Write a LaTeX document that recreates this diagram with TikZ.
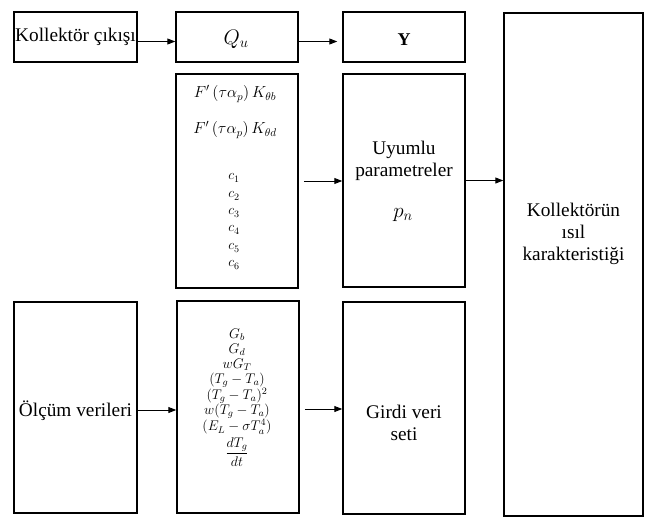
\RequirePackage{fix-cm}
\documentclass[tikz,border=0pt]{standalone}
\usepackage{amsmath}
\usepackage{fontspec}
\setmainfont{Liberation Serif}
\usetikzlibrary{arrows.meta}
\begin{document}
\begin{tikzpicture}[x=1pt,y=-1pt,
  box/.style={draw,line width=1.5pt,inner sep=0pt,align=center},
  lbl/.style={inner sep=0pt,align=center},
  txt/.style={font=\fontsize{19.3}{22}\selectfont},
  fml/.style={font=\fontsize{16}{18}\selectfont},
  mth/.style={font=\fontsize{14}{16}\selectfont},
  sml/.style={font=\fontsize{14}{15}\selectfont},
  big/.style={font=\fontsize{21}{24}\selectfont},
  arr/.style={-{Triangle[length=8pt,width=6pt]},line width=1pt}]
\useasboundingbox (0,0) rectangle (648,519);

% boxes
\node[box,txt,minimum width=123pt,minimum height=50pt] (kc) at (75.5,37) {Kollektör çıkışı};
\node[box,minimum width=122pt,minimum height=50pt] (qu) at (237,37) {};
\node[box,minimum width=122pt,minimum height=50pt] (yb) at (404,37) {};
\node[box,minimum width=139pt,minimum height=503pt] (kt) at (573.5,264.5) {};
\node[box,minimum width=122pt,minimum height=214pt] (par) at (237,181) {};
\node[box,minimum width=122pt,minimum height=213pt] (uy) at (404,180.5) {};
\node[box,minimum width=123pt,minimum height=211pt] (ol) at (75.5,407.5) {};
\node[box,minimum width=122pt,minimum height=212pt] (inp) at (238,407) {};
\node[box,minimum width=122pt,minimum height=212pt] (gi) at (404,408) {};

% texts
\node[lbl,big] (qut) at (236,39) {$Q_u$};
\node[lbl,font=\fontsize{18}{20}\selectfont] (yt) at (404,40) {\textbf{Y}};
\node[lbl,txt] (ktt) at (573.5,234) {Kollektörün\\ısıl\\karakteristiği};
\node[lbl,txt] (uyt) at (404,161) {Uyumlu\\parametreler};
\node[lbl,big] (pnt) at (403,215) {$p_n$};
\node[lbl,txt] (olt) at (75.5,411) {Ölçüm verileri};
\node[lbl,txt] (git) at (404,423) {Girdi veri\\seti};

\node[lbl,fml] (f1) at (235,94) {$F'\left(\tau\alpha_p\right)K_{\theta b}$};
\node[lbl,fml] (f2) at (235,130) {$F'\left(\tau\alpha_p\right)K_{\theta d}$};
\node[lbl,sml] (c1) at (234,178) {$c_1$};
\node[lbl,sml] (c2) at (234,196) {$c_2$};
\node[lbl,sml] (c3) at (234,213) {$c_3$};
\node[lbl,sml] (c4) at (234,230) {$c_4$};
\node[lbl,sml] (c5) at (234,248) {$c_5$};
\node[lbl,sml] (c6) at (234,265) {$c_6$};

\node[lbl,mth] (g1) at (237,335) {$G_b$};
\node[lbl,mth] (g2) at (237,350) {$G_d$};
\node[lbl,mth] (g3) at (237,365) {$wG_T$};
\node[lbl,mth] (g4) at (237,380.5) {$(T_g-T_a)$};
\node[lbl,mth] (g5) at (237,396) {$(T_g-T_a)^2$};
\node[lbl,mth] (g6) at (237,411.5) {$w(T_g-T_a)$};
\node[lbl,mth] (g7) at (237,427) {$(E_L-\sigma T_a^4)$};
\node[lbl,mth] (g8) at (237,452) {$\dfrac{dT_g}{dt}$};

% arrows
\draw[arr] ([yshift=-4.5pt]kc.east) -- ([yshift=-4.5pt]qu.west);
\draw[arr,shorten >=5pt] ([yshift=-4.5pt]qu.east) -- ([yshift=-4.5pt]yb.west);
\draw[arr,shorten <=5pt] (par.east) -- (par.east -| uy.west);
\draw[arr] (uy.east) -- (uy.east -| kt.west);
\draw[arr] ([yshift=-2.5pt]ol.east) -- ([yshift=-2.5pt]ol.east -| inp.west);
\draw[arr,shorten <=5pt] ([yshift=-2pt]inp.east) -- ([yshift=-2pt]inp.east -| gi.west);
\end{tikzpicture}
\end{document}
